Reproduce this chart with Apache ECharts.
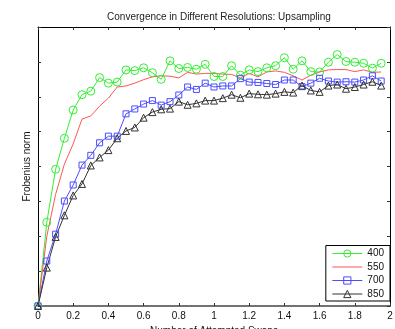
<!DOCTYPE html>
<html>
<head>
<meta charset="utf-8">
<script src="https://cdn.jsdelivr.net/npm/echarts@6/dist/echarts.min.js"></script>
<style>
  html, body { margin: 0; padding: 0; background: #fff; }
  #chart { width: 395px; height: 329px; }
</style>
</head>
<body>
<div id="chart"></div>
<script>
// attempted swaps (x)
const swaps = [0, 0.05, 0.1, 0.15, 0.2, 0.25, 0.3, 0.35, 0.4, 0.45,
  0.5, 0.55, 0.6, 0.65, 0.7, 0.75, 0.8, 0.85, 0.9, 0.95,
  1, 1.05, 1.1, 1.15, 1.2, 1.25, 1.3, 1.35, 1.4, 1.45,
  1.5, 1.55, 1.6, 1.65, 1.7, 1.75, 1.8, 1.85, 1.9, 1.95];

// frobenius norm per resolution (arbitrary units)
const res400 = [0, 2.40, 3.92, 4.81, 5.62, 6.06, 6.16, 6.55, 6.39, 6.42,
  6.77, 6.75, 6.83, 6.69, 6.50, 7.03, 6.81, 6.84, 6.79, 6.93,
  6.58, 6.58, 6.89, 6.62, 6.77, 6.72, 6.83, 6.89, 7.12, 6.79,
  7.03, 6.72, 6.71, 6.99, 7.21, 7.01, 6.99, 6.96, 6.82, 6.96];
const res550 = [0, 2.00, 3.20, 4.07, 4.65, 5.36, 5.45, 5.73, 5.96, 6.28,
  6.31, 6.39, 6.49, 6.57, 6.60, 6.59, 6.54, 6.70, 6.65, 6.67,
  6.67, 6.65, 6.64, 6.54, 6.67, 6.57, 6.71, 6.74, 6.70, 6.60,
  6.48, 6.62, 6.71, 6.77, 6.78, 6.78, 6.72, 6.77, 6.70, 6.71];
const res700 = [0, 1.29, 2.06, 3.01, 3.47, 4.04, 4.32, 4.68, 4.87, 4.87,
  5.51, 5.65, 5.79, 5.89, 5.76, 5.86, 6.05, 6.28, 6.21, 6.39,
  6.28, 6.31, 6.31, 6.52, 6.42, 6.41, 6.38, 6.35, 6.48, 6.48,
  6.29, 6.39, 6.53, 6.45, 6.42, 6.43, 6.42, 6.48, 6.60, 6.45];
const res850 = [0, 1.10, 1.98, 2.60, 3.17, 3.50, 4.03, 4.26, 4.47, 4.81,
  5.02, 5.12, 5.40, 5.56, 5.64, 5.66, 5.86, 5.77, 5.81, 5.89,
  5.89, 5.96, 6.06, 5.97, 6.09, 6.07, 6.06, 6.09, 6.14, 6.12,
  6.32, 6.18, 6.14, 6.32, 6.35, 6.23, 6.28, 6.35, 6.43, 6.32];

const names = ["400", "550", "700", "850"];
const colors = ["#33ee33", "#ff5555", "#4d4dff", "#333333"];

const font = "'Liberation Sans', Arial, sans-serif";

function pairs(ys) {
  return swaps.map((x, i) => [x, ys[i]]);
}

function makeSeries(name, ys, color, symbol, size) {
  return {
    name: name,
    type: "line",
    data: pairs(ys),
    symbol: symbol,
    symbolSize: size,
    showSymbol: symbol !== "none",
    lineStyle: { color: color, width: 1 },
    itemStyle: { color: "rgba(255,255,255,0)", borderColor: color, borderWidth: 1 },
    emphasis: { disabled: true },
    animation: false,
  };
}

const chartDom = document.getElementById("chart");
const myChart = echarts.init(chartDom);

const tick = { inside: true, length: 3, lineStyle: { color: "#333" } };
const boxLine = { show: true, onZero: false, lineStyle: { color: "#000", width: 1 } };

// matlab style box: ticks inside on all four sides
const option = {
  backgroundColor: "#fff",
  textStyle: { fontFamily: font },
  title: {
    text: "Convergence in Different Resolutions: Upsampling",
    left: 214,
    textAlign: "center",
    top: 7,
    textStyle: { fontSize: 10, fontWeight: "normal", color: "#222", fontFamily: font },
  },
  grid: { left: 38, right: 5, top: 27, bottom: 23, outerBoundsMode: "none", containLabel: false },
  legend: {
    data: [
      { name: "400" },
      {
        name: "550",
        icon: "path://M0,0 L30,0 L30,1 L0,1 Z",
        itemStyle: { color: colors[1], borderWidth: 0 },
      },
      { name: "700" },
      { name: "850" },
    ],
    orient: "vertical",
    right: 5,
    bottom: 28,
    itemWidth: 30,
    itemHeight: 9,
    itemGap: 3.5,
    padding: [3, 6, 2, 6],
    borderColor: "#000",
    borderWidth: 1,
    borderRadius: 0,
    backgroundColor: "#fff",
    lineStyle: { width: 1 },
    itemStyle: { borderWidth: 1 },
    textStyle: { fontSize: 10, color: "#111", fontFamily: font },
  },
  xAxis: [
    {
      type: "value",
      min: 0,
      max: 2,
      interval: 0.2,
      name: "Number of Attempted Swaps",
      nameLocation: "middle",
      nameGap: 16,
      nameTextStyle: { fontSize: 10, color: "#111" },
      axisLine: { show: true, onZero: false, lineStyle: { color: "#444", width: 1.5 } },
      axisTick: tick,
      axisLabel: { fontSize: 10, color: "#111", margin: 5 },
      splitLine: { show: false },
    },
    {
      type: "value",
      position: "top",
      min: 0,
      max: 2,
      interval: 0.2,
      axisLine: boxLine,
      axisTick: tick,
      axisLabel: { show: false },
      splitLine: { show: false },
    },
  ],
  yAxis: [
    {
      type: "value",
      min: 0,
      max: 8,
      interval: 1,
      name: "Frobenius norm",
      nameLocation: "middle",
      nameGap: 6,
      nameTextStyle: { fontSize: 10, color: "#111" },
      axisLine: boxLine,
      axisTick: { show: true, ...tick },
      axisLabel: { show: false },
      splitLine: { show: false },
    },
    {
      type: "value",
      position: "right",
      min: 0,
      max: 8,
      interval: 1,
      axisLine: boxLine,
      axisTick: { show: true, ...tick },
      axisLabel: { show: false },
      splitLine: { show: false },
    },
  ],
  series: [
    makeSeries(names[0], res400, colors[0], "circle", 8),
    makeSeries(names[1], res550, colors[1], "none", 0),
    makeSeries(names[2], res700, colors[2], "rect", 6),
    makeSeries(names[3], res850, colors[3], "triangle", 7),
  ],
};

myChart.setOption(option);
</script>
</body>
</html>
